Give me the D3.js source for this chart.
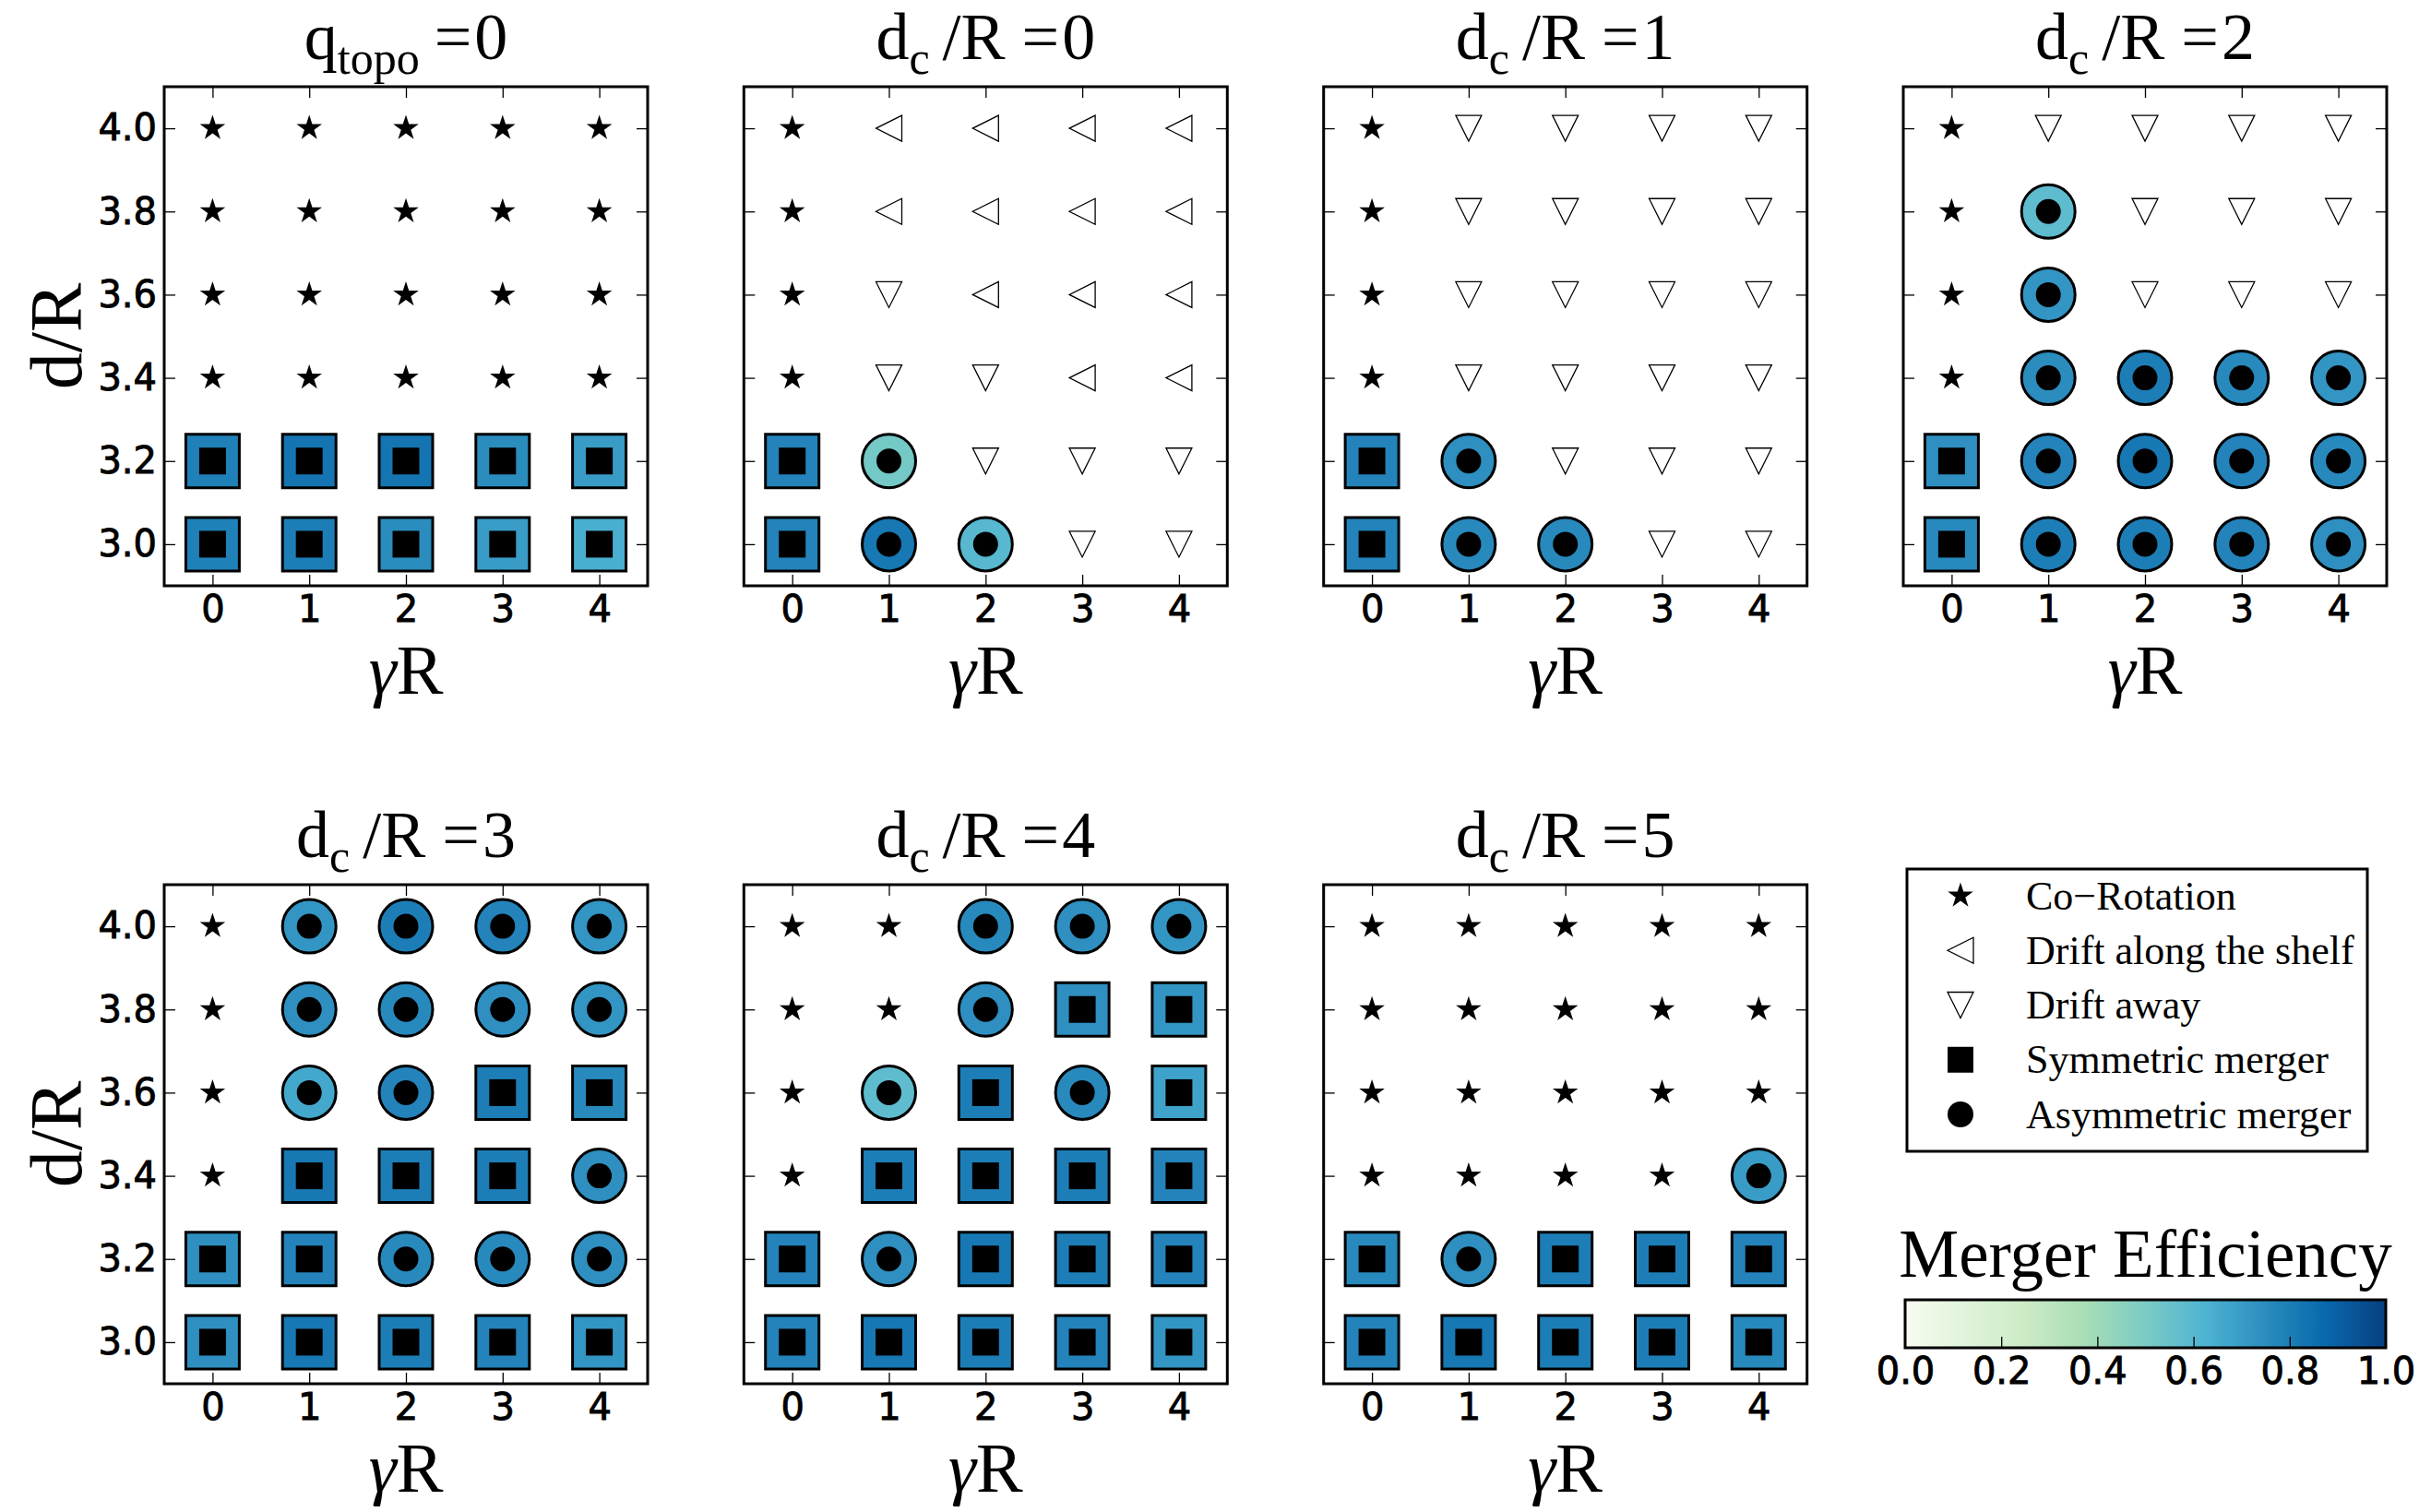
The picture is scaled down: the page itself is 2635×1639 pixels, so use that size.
<!DOCTYPE html>
<html>
<head>
<meta charset="utf-8">
<script src="https://d3js.org/d3.v7.min.js"></script>
<style>
html,body{margin:0;padding:0;background:#fff;}
svg{display:block;}
</style>
</head>
<body>
<svg id="chart" width="2635" height="1639"></svg>
<script>
// ---------------- DATA ----------------
const gammaR = [0, 1, 2, 3, 4];
const dR = [4.0, 3.8, 3.6, 3.4, 3.2, 3.0];          // rows, top to bottom
const xTickLabels = ["0", "1", "2", "3", "4"];
const yTickValues = [3.0, 3.2, 3.4, 3.6, 3.8, 4.0];
const yTickLabels = ["3.0", "3.2", "3.4", "3.6", "3.8", "4.0"];
const cbarTicks = [0.0, 0.2, 0.4, 0.6, 0.8, 1.0];
const cbarTickLabels = ["0.0", "0.2", "0.4", "0.6", "0.8", "1.0"];

// outcome codes: C co-rotation, L drift along shelf, D drift away, S symmetric merger, A asymmetric merger
const outcome_q0 = [
  ["C","C","C","C","C"],
  ["C","C","C","C","C"],
  ["C","C","C","C","C"],
  ["C","C","C","C","C"],
  ["S","S","S","S","S"],
  ["S","S","S","S","S"]];
const eff_q0 = [
  [null,null,null,null,null],
  [null,null,null,null,null],
  [null,null,null,null,null],
  [null,null,null,null,null],
  [0.79,0.83,0.83,0.75,0.70],
  [0.79,0.80,0.75,0.70,0.64]];

const outcome_dc0 = [
  ["C","L","L","L","L"],
  ["C","L","L","L","L"],
  ["C","D","L","L","L"],
  ["C","D","D","L","L"],
  ["S","A","D","D","D"],
  ["S","A","A","D","D"]];
const eff_dc0 = [
  [null,null,null,null,null],
  [null,null,null,null,null],
  [null,null,null,null,null],
  [null,null,null,null,null],
  [0.78,0.52,null,null,null],
  [0.78,0.82,0.60,null,null]];

const outcome_dc1 = [
  ["C","D","D","D","D"],
  ["C","D","D","D","D"],
  ["C","D","D","D","D"],
  ["C","D","D","D","D"],
  ["S","A","D","D","D"],
  ["S","A","A","D","D"]];
const eff_dc1 = [
  [null,null,null,null,null],
  [null,null,null,null,null],
  [null,null,null,null,null],
  [null,null,null,null,null],
  [0.78,0.74,null,null,null],
  [0.78,0.76,0.76,null,null]];

const outcome_dc2 = [
  ["C","D","D","D","D"],
  ["C","A","D","D","D"],
  ["C","A","D","D","D"],
  ["C","A","A","A","A"],
  ["S","A","A","A","A"],
  ["S","A","A","A","A"]];
const eff_dc2 = [
  [null,null,null,null,null],
  [null,0.58,null,null,null],
  [null,0.72,null,null,null],
  [null,0.75,0.80,0.76,0.72],
  [0.74,0.78,0.82,0.78,0.76],
  [0.76,0.80,0.80,0.78,0.74]];

const outcome_dc3 = [
  ["C","A","A","A","A"],
  ["C","A","A","A","A"],
  ["C","A","A","S","S"],
  ["C","S","S","S","A"],
  ["S","S","A","A","A"],
  ["S","S","S","S","S"]];
const eff_dc3 = [
  [null,0.72,0.80,0.78,0.72],
  [null,0.74,0.76,0.74,0.72],
  [null,0.66,0.78,0.80,0.76],
  [null,0.82,0.80,0.80,0.74],
  [0.74,0.78,0.76,0.76,0.74],
  [0.74,0.82,0.80,0.78,0.72]];

const outcome_dc4 = [
  ["C","C","A","A","A"],
  ["C","C","A","S","S"],
  ["C","A","S","A","S"],
  ["C","S","S","S","S"],
  ["S","A","S","S","S"],
  ["S","S","S","S","S"]];
const eff_dc4 = [
  [null,null,0.76,0.74,0.72],
  [null,null,0.74,0.74,0.72],
  [null,0.58,0.80,0.76,0.68],
  [null,0.80,0.80,0.80,0.78],
  [0.78,0.74,0.82,0.80,0.78],
  [0.78,0.82,0.80,0.78,0.72]];

const outcome_dc5 = [
  ["C","C","C","C","C"],
  ["C","C","C","C","C"],
  ["C","C","C","C","C"],
  ["C","C","C","C","A"],
  ["S","A","S","S","S"],
  ["S","S","S","S","S"]];
const eff_dc5 = [
  [null,null,null,null,null],
  [null,null,null,null,null],
  [null,null,null,null,null],
  [null,null,null,null,0.70],
  [0.76,0.74,0.80,0.80,0.78],
  [0.78,0.82,0.80,0.80,0.76]];

const legendCodes = ["C", "L", "D", "S", "A"];
const legendLabels = ["Co\u2212Rotation", "Drift along the shelf", "Drift away", "Symmetric merger", "Asymmetric merger"];

// GnBu colormap stops (matplotlib)
const gnbuStops = [0, 0.125, 0.25, 0.375, 0.5, 0.625, 0.75, 0.875, 1];
const gnbuColors = ["#f7fcf0","#e0f3db","#ccebc5","#a8ddb5","#7bccc4","#4eb3d3","#2b8cbe","#0868ac","#084081"];

// ---------------- LAYOUT ----------------
const svg = d3.select("#chart");
const W = 524, H = 541;
const colX = [178, 806.3, 1434.7, 2063];
const rowY = [94, 959];
const serif = "'Liberation Serif', 'Times New Roman', serif";
const sans = "'DejaVu Sans', sans-serif";
const tickFont = 40;

const color = d3.scaleLinear().domain(gnbuStops).range(gnbuColors).interpolate(d3.interpolateRgb).clamp(true);

const panels = [
  {title: {main: "q", sub: "topo", rest: "0"}, out: outcome_q0, eff: eff_q0, col: 0, row: 0, ylab: true},
  {title: {main: "d", sub: "c", rest: "0"}, out: outcome_dc0, eff: eff_dc0, col: 1, row: 0},
  {title: {main: "d", sub: "c", rest: "1"}, out: outcome_dc1, eff: eff_dc1, col: 2, row: 0},
  {title: {main: "d", sub: "c", rest: "2"}, out: outcome_dc2, eff: eff_dc2, col: 3, row: 0},
  {title: {main: "d", sub: "c", rest: "3"}, out: outcome_dc3, eff: eff_dc3, col: 0, row: 1, ylab: true},
  {title: {main: "d", sub: "c", rest: "4"}, out: outcome_dc4, eff: eff_dc4, col: 1, row: 1},
  {title: {main: "d", sub: "c", rest: "5"}, out: outcome_dc5, eff: eff_dc5, col: 2, row: 1}
];

const x = d3.scaleLinear().domain([-0.5, 4.5]).range([0, W]);
const y = d3.scaleLinear().domain([2.9, 4.1]).range([H, 0]);

const TRI = 28;
function triDown(s) {
  const p = d3.path();
  p.moveTo(-s/2, -s/2); p.lineTo(s/2, -s/2); p.lineTo(0, s/2); p.closePath();
  return p.toString();
}
function triLeft(s) {
  const p = d3.path();
  p.moveTo(s/2, -s/2); p.lineTo(s/2, s/2); p.lineTo(-s/2, 0); p.closePath();
  return p.toString();
}
const starPath = d3.symbol().type(d3.symbolStar).size(14.5*14.5/0.8908130915)();
const sqOuter = d3.symbol().type(d3.symbolSquare).size(58*58)();
const sqInner = d3.symbol().type(d3.symbolSquare).size(29*29)();
const ciOuter = d3.symbol().type(d3.symbolCircle).size(Math.PI*29*29)();
const ciInner = d3.symbol().type(d3.symbolCircle).size(Math.PI*13.5*13.5)();
const legSq = d3.symbol().type(d3.symbolSquare).size(28*28)();
const legCi = d3.symbol().type(d3.symbolCircle).size(Math.PI*14*14)();

function drawMarker(g, code, e, legend) {
  if (code === "C") {
    g.append("path").attr("d", starPath).attr("fill", "#000");
  } else if (code === "L") {
    g.append("path").attr("d", triLeft(TRI)).attr("fill", "#fff").attr("stroke", "#000").attr("stroke-width", 1.3);
  } else if (code === "D") {
    g.append("path").attr("d", triDown(TRI)).attr("fill", "#fff").attr("stroke", "#000").attr("stroke-width", 1.3);
  } else if (code === "S") {
    if (legend) { g.append("path").attr("d", legSq).attr("fill", "#000"); return; }
    g.append("path").attr("d", sqOuter).attr("fill", color(e)).attr("stroke", "#000").attr("stroke-width", 3);
    g.append("path").attr("d", sqInner).attr("fill", "#000");
  } else if (code === "A") {
    if (legend) { g.append("path").attr("d", legCi).attr("fill", "#000"); return; }
    g.append("path").attr("d", ciOuter).attr("fill", color(e)).attr("stroke", "#000").attr("stroke-width", 3);
    g.append("path").attr("d", ciInner).attr("fill", "#000");
  }
}

function styleTickText(sel) {
  sel.attr("font-family", sans).attr("font-size", tickFont).attr("fill", "#000")
    .attr("stroke", "#000").attr("stroke-width", 0.9);
}

panels.forEach(p => {
  const g = svg.append("g").attr("transform", `translate(${colX[p.col]},${rowY[p.row]})`);

  // axes (ticks inside, all four sides)
  const xb = d3.axisBottom(x).tickValues(gammaR).tickFormat((d, i) => xTickLabels[i]).tickSize(-12).tickPadding(11);
  const xt = d3.axisTop(x).tickValues(gammaR).tickFormat("").tickSize(-12);
  const yl = d3.axisLeft(y).tickValues(yTickValues).tickFormat((d, i) => p.ylab ? yTickLabels[i] : "").tickSize(-12).tickPadding(8);
  const yr = d3.axisRight(y).tickValues(yTickValues).tickFormat("").tickSize(-12);
  [[xb, `translate(0,${H})`], [xt, "translate(0,0)"], [yl, "translate(0,0)"], [yr, `translate(${W},0)`]].forEach(([ax, tr]) => {
    const a = g.append("g").attr("transform", tr).call(ax);
    a.select(".domain").remove();
    a.selectAll(".tick line").attr("stroke", "#000").attr("stroke-width", 1.3);
    styleTickText(a.selectAll(".tick text"));
  });

  // markers
  p.out.forEach((row, ri) => {
    row.forEach((code, ci) => {
      const mg = g.append("g").attr("transform", `translate(${x(gammaR[ci])},${y(dR[ri])})`);
      drawMarker(mg, code, p.eff[ri][ci], false);
    });
  });

  // spines
  g.append("rect").attr("x", 0).attr("y", 0).attr("width", W).attr("height", H)
    .attr("fill", "none").attr("stroke", "#000").attr("stroke-width", 3);

  // title
  const t = g.append("text").attr("x", W/2).attr("y", -30).attr("text-anchor", "middle")
    .attr("font-family", serif).attr("font-size", 72).attr("fill", "#000");
  t.append("tspan").text(p.title.main);
  t.append("tspan").attr("font-size", 50).attr("dy", 16).text(p.title.sub);
  if (p.title.sub === "c") {
    t.append("tspan").attr("dy", -16).attr("dx", 14).text("/R");
    t.append("tspan").attr("dx", 18).text("=");
  } else {
    t.append("tspan").attr("dy", -16).attr("dx", 16).text("=");
  }
  t.append("tspan").attr("dx", 3).text(p.title.rest);

  // x label
  const xl = g.append("text").attr("x", W/2).attr("y", H + 117).attr("text-anchor", "middle")
    .attr("font-family", serif).attr("font-size", 76).attr("fill", "#000");
  xl.append("tspan").attr("font-style", "italic").text("\u03B3");
  xl.append("tspan").text("R");

  if (p.ylab) {
    g.append("text").attr("transform", `translate(${88 - colX[p.col]},${H/2}) rotate(-90)`)
      .attr("text-anchor", "middle").attr("font-family", serif).attr("font-size", 80).attr("fill", "#000").text("d/R");
  }
});

// ---------------- LEGEND ----------------
const lg = svg.append("g");
lg.append("rect").attr("x", 2067).attr("y", 942).attr("width", 499).attr("height", 306)
  .attr("fill", "#fff").attr("stroke", "#000").attr("stroke-width", 3);
const legY = d3.scalePoint().domain(legendCodes).range([971, 1208]);
legendCodes.forEach((c, i) => {
  const mg = lg.append("g").attr("transform", `translate(2125,${legY(c)})`);
  drawMarker(mg, c, null, true);
  lg.append("text").attr("x", 2196).attr("y", legY(c)).attr("dy", "0.33em")
    .attr("font-family", serif).attr("font-size", 44).attr("fill", "#000").text(legendLabels[i]);
});

// ---------------- COLORBAR ----------------
const cbX0 = 2065, cbX1 = 2586, cbY0 = 1409, cbY1 = 1461;
const cx = d3.scaleLinear().domain([0, 1]).range([cbX0, cbX1]);
const defs = svg.append("defs");
const grad = defs.append("linearGradient").attr("id", "gnbu").attr("x1", "0%").attr("x2", "100%").attr("y1", "0%").attr("y2", "0%");
d3.range(0, 1.0001, 0.025).forEach(v => {
  grad.append("stop").attr("offset", (v*100) + "%").attr("stop-color", color(v));
});
svg.append("rect").attr("x", cbX0).attr("y", cbY0).attr("width", cbX1 - cbX0).attr("height", cbY1 - cbY0)
  .attr("fill", "url(#gnbu)");
const cax = svg.append("g").attr("transform", `translate(0,${cbY1})`)
  .call(d3.axisBottom(cx).tickValues(cbarTicks).tickFormat((d, i) => cbarTickLabels[i]).tickSize(-12).tickPadding(11));
cax.select(".domain").remove();
cax.selectAll(".tick line").attr("stroke", "#000").attr("stroke-width", 1.3)
  .attr("opacity", (d) => (d === 0 || d === 1) ? 0 : 1);
styleTickText(cax.selectAll(".tick text"));
svg.append("rect").attr("x", cbX0).attr("y", cbY0).attr("width", cbX1 - cbX0).attr("height", cbY1 - cbY0)
  .attr("fill", "none").attr("stroke", "#000").attr("stroke-width", 3);
svg.append("text").attr("x", (cbX0 + cbX1)/2).attr("y", 1384).attr("text-anchor", "middle")
  .attr("font-family", serif).attr("font-size", 73).attr("fill", "#000").text("Merger Efficiency");
</script>
</body>
</html>
